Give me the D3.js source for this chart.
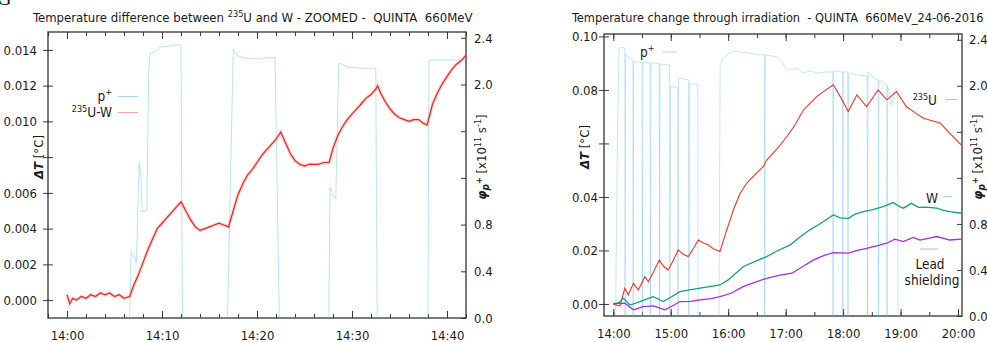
<!DOCTYPE html>
<html>
<head>
<meta charset="utf-8">
<script src="https://cdn.jsdelivr.net/npm/d3@7"></script>
<style>
  body { margin: 0; background: #fff; }
  svg text { font-family: "DejaVu Sans Condensed", "DejaVu Sans", sans-serif; fill: #1a1a1a; white-space: pre; }
  .axis path.domain { display: none; }
  .axis line { stroke: #3a3a3a; stroke-width: 1; }
  .axis text { font-family: "DejaVu Sans Condensed", "DejaVu Sans", sans-serif; font-size: 13px; fill: #1a1a1a; }
</style>
</head>
<body>
<svg id="chart" width="987" height="342"></svg>
<script>
// ---- left panel: 235U - W difference, minutes after 14:00 ----
var zoomDiff = [
  [0, 0.0003], [0.3, -0.0002], [0.6, 0.0001], [1.0, 0.0000], [1.5, 0.0002], [2.0, 0.0001],
  [2.5, 0.0003], [3.0, 0.0002], [3.5, 0.0004], [4.0, 0.0003], [4.5, 0.0004], [5.0, 0.0002],
  [5.5, 0.0003], [6.0, 0.0001], [6.6, 0.0002], [7.0, 0.0008], [7.5, 0.0014], [8.0, 0.0021],
  [8.5, 0.0028], [9.0, 0.0034], [9.5, 0.0040], [10.0, 0.0043], [10.5, 0.0046], [11.0, 0.0049],
  [11.5, 0.0052], [12.0, 0.0055], [12.5, 0.0050], [13.0, 0.0045], [13.5, 0.0041], [14.0, 0.0039],
  [14.5, 0.0040], [15.0, 0.0041], [15.5, 0.0042], [16.0, 0.0043], [16.5, 0.0042], [17.0, 0.0041],
  [17.5, 0.0050], [18.0, 0.0059], [18.5, 0.0065], [19.0, 0.0070], [19.5, 0.0073], [20.0, 0.0077],
  [20.5, 0.0081], [21.0, 0.0084], [21.5, 0.0087], [22.0, 0.0090], [22.5, 0.0094], [23.0, 0.0088],
  [23.5, 0.0082], [24.0, 0.0078], [24.5, 0.0076], [25.0, 0.0075], [25.5, 0.0076], [26.0, 0.0076],
  [26.5, 0.0076], [27.0, 0.0077], [27.6, 0.0077], [28.0, 0.0085], [28.5, 0.0092], [29.0, 0.0097],
  [29.5, 0.0101], [30.0, 0.0104], [30.5, 0.0107], [31.0, 0.0110], [31.5, 0.0113], [32.0, 0.0115],
  [32.5, 0.0118], [32.7, 0.0120], [33.0, 0.0116], [33.5, 0.0111], [34.0, 0.0107], [34.5, 0.0104],
  [35.0, 0.0102], [35.5, 0.0101], [36.0, 0.0100], [36.5, 0.0101], [37.0, 0.0101], [37.5, 0.0099],
  [37.9, 0.0098], [38.5, 0.0110], [39.0, 0.0116], [39.5, 0.0121], [40.0, 0.0125], [40.5, 0.0129],
  [41.0, 0.0132], [41.5, 0.0134], [42.0, 0.0137]
];
var zoomBeam = [
  [0, 0], [6.6, 0], [6.75, 0.57], [7.0, 0.55], [7.3, 0.47], [7.6, 1.33], [7.75, 1.25], [7.9, 0.91],
  [8.4, 0.92], [8.6, 2.10], [8.75, 2.27], [9.3, 2.28], [9.8, 2.32], [11.7, 2.34], [12.0, 2.34],
  [12.15, 0], [16.9, 0], [17.5, 2.30], [17.9, 2.25], [18.5, 2.23], [19.5, 2.22], [20.5, 2.22],
  [21.0, 2.23], [21.9, 2.23], [22.35, 0], [27.55, 0], [27.7, 1.12], [28.0, 1.05], [28.3, 1.02],
  [28.6, 2.18], [28.8, 2.18], [29.5, 2.15], [31.0, 2.14], [32.5, 2.14], [32.65, 0], [38.0, 0],
  [38.1, 2.21], [42.0, 2.21]
];
var zoomDTTicks = [0, 0.002, 0.004, 0.006, 0.008, 0.010, 0.012, 0.014];
var beamTicks = [0, 0.4, 0.8, 1.2, 1.6, 2.0, 2.4];

// ---- right panel: whole irradiation, hours after 14:00 ----
var fullU235 = [
  [0, 0], [0.06, -0.0005], [0.117, -0.0007], [0.2, 0.0059], [0.26, 0.0034], [0.35, 0.0077],
  [0.435, 0.0052], [0.55, 0.0102], [0.61, 0.0083], [0.7, 0.0120], [0.80, 0.0164], [0.88, 0.0140],
  [0.957, 0.0127], [1.05, 0.0165], [1.13, 0.0202], [1.22, 0.0185], [1.305, 0.0177], [1.40, 0.0210],
  [1.48, 0.0239], [1.57, 0.0228], [1.65, 0.0221], [1.75, 0.0205], [1.857, 0.0196], [1.95, 0.0260],
  [2.09, 0.0351], [2.2, 0.0410], [2.32, 0.0451], [2.45, 0.0480], [2.61, 0.0513], [2.67, 0.0538],
  [2.85, 0.0580], [3.02, 0.0625], [3.15, 0.0665], [3.31, 0.0725], [3.45, 0.0755], [3.54, 0.0775],
  [3.7, 0.0800], [3.83, 0.0819], [3.95, 0.0775], [4.09, 0.0719], [4.24, 0.0781], [4.41, 0.0738],
  [4.61, 0.0800], [4.76, 0.0763], [4.93, 0.0794], [5.1, 0.0738], [5.25, 0.0715], [5.40, 0.0694],
  [5.55, 0.0685], [5.69, 0.0676], [5.86, 0.0638], [6.06, 0.0594]
];
var fullW = [
  [0, 0], [0.1, 0.0005], [0.174, 0.0021], [0.29, -0.0004], [0.465, 0.0009], [0.6, 0.0020],
  [0.696, 0.0027], [0.87, 0.0009], [1.0, 0.0025], [1.16, 0.0046], [1.3, 0.0052], [1.51, 0.0059],
  [1.7, 0.0066], [1.857, 0.0071], [2.0, 0.0090], [2.26, 0.0139], [2.45, 0.0157], [2.67, 0.0177],
  [2.85, 0.0198], [3.08, 0.0221], [3.25, 0.0250], [3.42, 0.0277], [3.6, 0.0300], [3.83, 0.0333],
  [3.95, 0.0322], [4.09, 0.0320], [4.2, 0.0335], [4.35, 0.0345], [4.5, 0.0352], [4.70, 0.0364],
  [4.87, 0.0379], [5.0, 0.0362], [5.05, 0.0358], [5.19, 0.0376], [5.31, 0.0361], [5.45, 0.0362],
  [5.63, 0.0358], [5.75, 0.0350], [5.86, 0.0345], [6.06, 0.0339]
];
var fullLead = [
  [0, 0], [0.2, 0.0003], [0.35, -0.0022], [0.52, -0.0010], [0.696, -0.0007], [0.9, -0.0022],
  [1.05, -0.0005], [1.16, 0.0009], [1.35, 0.0010], [1.51, 0.0015], [1.7, 0.0020], [1.857, 0.0027],
  [2.05, 0.0040], [2.26, 0.0065], [2.45, 0.0080], [2.67, 0.0096], [2.9, 0.0108], [3.11, 0.0115],
  [3.3, 0.0140], [3.48, 0.0164], [3.65, 0.0180], [3.83, 0.0192], [4.09, 0.0190], [4.25, 0.0200],
  [4.41, 0.0208], [4.6, 0.0218], [4.76, 0.0227], [4.90, 0.0242], [5.05, 0.0233], [5.22, 0.0249],
  [5.34, 0.0239], [5.5, 0.0246], [5.63, 0.0252], [5.86, 0.0239], [6.06, 0.0242]
];
var fullBeam = [
  [0, 0], [0.04, 0], [0.07, 1.5], [0.10, 2.33], [0.20, 2.33], [0.205, 0], [0.215, 2.27],
  [0.34, 2.22], [0.345, 0], [0.355, 2.21], [0.50, 2.2], [0.505, 0], [0.515, 2.2], [0.64, 2.2],
  [0.645, 0], [0.655, 2.2], [0.80, 2.19], [0.805, 0], [0.815, 2.19], [0.98, 2.18], [0.985, 0],
  [0.995, 2.0], [1.12, 1.98], [1.125, 0], [1.135, 2.07], [1.31, 2.05], [1.315, 0], [1.325, 2.02],
  [1.47, 2.01], [1.475, 0], [1.84, 0], [1.86, 2.17], [1.9, 2.23], [2.0, 2.28], [2.1, 2.30],
  [2.3, 2.29], [2.5, 2.27], [2.63, 2.27], [2.635, 0], [2.645, 2.27], [2.85, 2.25], [2.92, 2.22],
  [3.0, 2.15], [3.1, 2.14], [3.2, 2.15], [3.3, 2.11], [3.45, 2.13], [3.55, 2.11], [3.7, 2.12],
  [3.82, 2.12], [3.825, 0], [3.835, 2.13], [3.99, 2.12], [3.995, 0], [4.005, 2.12], [4.08, 2.12],
  [4.085, 0], [4.095, 2.11], [4.3, 2.09], [4.42, 2.09], [4.425, 0], [4.435, 2.12], [4.55, 2.06],
  [4.61, 2.05], [4.615, 0], [4.625, 2.05], [4.76, 2.01], [4.765, 0], [4.775, 2.0], [4.84, 1.83],
  [4.92, 1.98], [4.95, 1.95], [4.955, 0], [6.06, 0]
];
var fullDTTicks = [0, 0.02, 0.04, 0.06, 0.08, 0.10];

var base = new Date(2016, 5, 24, 14, 0);
function atMin(m) { return new Date(base.getTime() + m * 60000); }
function atHour(h) { return atMin(h * 60); }

var svg = d3.select("#chart");
var fmtTime = d3.timeFormat("%H:%M");

// cropped caption glyph at the very top-left
svg.append("text").attr("x", -3).attr("y", 5)
  .style("font-family", "Liberation Serif, serif").style("font-size", "20px").text("G");

// scale a text's font so it spans the same width as in the original
function fitWidth(t, width) {
  var size = parseFloat(t.style("font-size"));
  var len = t.node().getComputedTextLength();
  t.style("font-size", (size * width / len).toFixed(2) + "px");
}

function frameAndAxes(p) {
  svg.append("clipPath").attr("id", p.id)
    .append("rect").attr("x", p.l).attr("y", p.t).attr("width", p.r - p.l).attr("height", p.b - p.t);

  svg.append("g").attr("class", "axis").attr("transform", "translate(0," + p.b + ")")
    .call(d3.axisBottom(p.x).ticks(p.minor).tickSize(-4).tickFormat(""));
  svg.append("g").attr("class", "axis").attr("transform", "translate(0," + p.b + ")")
    .call(d3.axisBottom(p.x).ticks(p.major).tickSize(-7).tickPadding(13).tickFormat(fmtTime));
  svg.append("g").attr("class", "axis").attr("transform", "translate(0," + p.t + ")")
    .call(d3.axisTop(p.x).ticks(p.minor).tickSize(-4).tickFormat(""));
  svg.append("g").attr("class", "axis").attr("transform", "translate(0," + p.t + ")")
    .call(d3.axisTop(p.x).ticks(p.major).tickSize(-7).tickFormat(""));

  svg.append("g").attr("class", "axis").attr("transform", "translate(" + p.l + ",0)")
    .call(d3.axisLeft(p.y).tickValues(p.yTicks).tickSize(-5).tickFormat(""));
  svg.append("g").attr("class", "axis").attr("transform", "translate(" + p.l + ",0)")
    .call(d3.axisLeft(p.y).tickValues(p.yTicks).tickSize(5).tickPadding(p.yPad)
      .tickFormat(function(d) { return Math.abs(d - p.yHide) < 1e-9 ? "" : d3.format(p.yFmt)(d); }));

  svg.append("g").attr("class", "axis").attr("transform", "translate(" + p.r + ",0)")
    .call(d3.axisRight(p.y2).tickValues(beamTicks).tickSize(-5).tickPadding(p.y2Pad)
      .tickFormat(function(d) { return (d === 1.2 || d === 1.6) ? "" : d3.format(".1f")(d); }));

  svg.append("rect")
    .attr("x", p.l).attr("y", p.t).attr("width", p.r - p.l).attr("height", p.b - p.t)
    .attr("fill", "none").attr("stroke", "#333").attr("stroke-width", 1.3);

  var title = svg.append("text").attr("x", p.titleX).attr("y", 22).style("font-size", "13px");
  p.title(title);
  fitWidth(title, p.titleW);

  // left axis label
  var yl = svg.append("text")
    .attr("transform", "translate(" + p.yLabX + "," + p.yLabY + ") rotate(-90)")
    .attr("text-anchor", "middle").style("font-size", "13px");
  yl.append("tspan").style("font-weight", "bold").style("font-style", "italic").text("\u0394T");
  yl.append("tspan").text(" [\u00B0C]");

  // right axis label
  var yr = svg.append("text")
    .attr("transform", "translate(" + p.y2LabX + "," + p.y2LabY + ") rotate(-90)")
    .attr("text-anchor", "middle").style("font-size", "13px");
  yr.append("tspan").style("font-weight", "bold").style("font-style", "italic").text("\u03C6");
  yr.append("tspan").style("font-weight", "bold").style("font-style", "italic")
    .style("font-size", "10px").attr("dy", 3).text("p");
  yr.append("tspan").style("font-weight", "bold").style("font-size", "9px").attr("dy", -7).text("+");
  yr.append("tspan").attr("dy", 4).text(" [x10");
  yr.append("tspan").style("font-size", "9px").attr("dy", -5).text("11");
  yr.append("tspan").attr("dy", 5).text(" s");
  yr.append("tspan").style("font-size", "9px").attr("dy", -5).text("-1");
  yr.append("tspan").attr("dy", 5).text("]");

  return svg.append("g").attr("clip-path", "url(#" + p.id + ")");
}

function legendEntry(tx, ty, anchor, parts, x1, x2, ly, color) {
  var t = svg.append("text").attr("x", tx).attr("y", ty).attr("text-anchor", anchor).style("font-size", "13.5px");
  parts(t);
  svg.append("line").attr("x1", x1).attr("x2", x2).attr("y1", ly).attr("y2", ly)
    .attr("stroke", color).attr("stroke-width", 1);
}
function pPlus(t) {
  t.append("tspan").text("p");
  t.append("tspan").style("font-size", "9px").attr("dy", -6).text("+");
}
function sup235(label) {
  return function(t) {
    t.append("tspan").style("font-size", "9px").attr("dy", -5).text("235");
    t.append("tspan").attr("dy", 5).text(label);
  };
}

// ================= left panel =================
var xL = d3.scaleTime().domain([atMin(-2), atMin(42)]).range([48, 466]);
var yL = d3.scaleLinear().domain([-0.001, 0.015]).range([318, 32]);
var y2L = d3.scaleLinear().domain([0, 2.45]).range([318, 32]);

var gL = frameAndAxes({
  id: "clipL", l: 48, t: 32, r: 466, b: 318, x: xL, y: yL, y2: y2L,
  major: d3.timeMinute.every(10), minor: d3.timeMinute.every(2),
  yTicks: zoomDTTicks, yHide: 0.008, yFmt: ".3f", yPad: 6, y2Pad: 8,
  titleX: 33, titleW: 440,
  title: function(t) {
    t.append("tspan").text("Temperature difference between ");
    t.append("tspan").style("font-size", "0.7em").attr("dy", -5).text("235");
    t.append("tspan").attr("dy", 5).text("U and W - ZOOMED -  QUINTA  660MeV");
  },
  yLabX: 43, yLabY: 157, y2LabX: 486, y2LabY: 157
});

var beamLineL = d3.line().x(function(d) { return xL(atMin(d[0])); }).y(function(d) { return y2L(d[1]); });
var diffLine = d3.line().x(function(d) { return xL(atMin(d[0])); }).y(function(d) { return yL(d[1]); });

gL.append("path").datum(zoomBeam).attr("d", beamLineL)
  .attr("fill", "none").attr("stroke", "#56b4e9").attr("stroke-opacity", 0.45).attr("stroke-width", 0.9);
gL.append("path").datum(zoomDiff).attr("d", diffLine)
  .attr("fill", "none").attr("stroke", "#f08a8a").attr("stroke-opacity", 0.35).attr("stroke-width", 3.5);
gL.append("path").datum(zoomDiff).attr("d", diffLine)
  .attr("fill", "none").attr("stroke", "#e3281c").attr("stroke-width", 1.2);

legendEntry(112, 101, "end", pPlus, 118, 138, 96.5, "#a9d8f3");
legendEntry(112, 117, "end", sup235("U-W"), 118, 138, 112.5, "#f6a9a9");

// ================= right panel =================
var xR = d3.scaleTime().domain([atHour(-0.162), atHour(6.07)]).range([604, 962]);
var yR = d3.scaleLinear().domain([-0.0045, 0.1009]).range([316, 34]);
var y2R = d3.scaleLinear().domain([0, 2.45]).range([316, 34]);

var gR = frameAndAxes({
  id: "clipR", l: 604, t: 34, r: 962, b: 316, x: xR, y: yR, y2: y2R,
  major: d3.timeHour.every(1), minor: d3.timeMinute.every(30),
  yTicks: fullDTTicks, yHide: 0.06, yFmt: ".2f", yPad: 1, y2Pad: 7,
  titleX: 572, titleW: 412,
  title: function(t) {
    t.text("Temperature change through irradiation  - QUINTA  660MeV_24-06-2016");
  },
  yLabX: 589, yLabY: 147, y2LabX: 982, y2LabY: 157
});

var beamLineR = d3.line().x(function(d) { return xR(atHour(d[0])); }).y(function(d) { return y2R(d[1]); });
var tempLineR = d3.line().x(function(d) { return xR(atHour(d[0])); }).y(function(d) { return yR(d[1]); });

gR.append("path").datum(fullBeam).attr("d", beamLineR)
  .attr("fill", "none").attr("stroke", "#56b4e9").attr("stroke-opacity", 0.42).attr("stroke-width", 0.8);
gR.append("path").datum(fullU235).attr("d", tempLineR)
  .attr("fill", "none").attr("stroke", "#e6352a").attr("stroke-width", 1.1);
gR.append("path").datum(fullW).attr("d", tempLineR)
  .attr("fill", "none").attr("stroke", "#17a078").attr("stroke-width", 1.3);
gR.append("path").datum(fullLead).attr("d", tempLineR)
  .attr("fill", "none").attr("stroke", "#a02fe3").attr("stroke-width", 1.3);

legendEntry(640, 57, "start", pPlus, 662, 677, 52, "#a9d8f3");
legendEntry(937, 105, "end", sup235("U"), 945, 957, 99.5, "#f6a9a9");
legendEntry(938, 203, "end", function(t) { t.text("W"); }, 943, 952, 196.5, "#9fdcc8");
svg.append("line").attr("x1", 920).attr("x2", 938).attr("y1", 249).attr("y2", 249)
  .attr("stroke", "#d7a6ef").attr("stroke-width", 1);
svg.append("text").attr("x", 930).attr("y", 269).attr("text-anchor", "middle").style("font-size", "13.5px").text("Lead");
svg.append("text").attr("x", 932).attr("y", 285).attr("text-anchor", "middle").style("font-size", "13.5px").text("shielding");
</script>
</body>
</html>
